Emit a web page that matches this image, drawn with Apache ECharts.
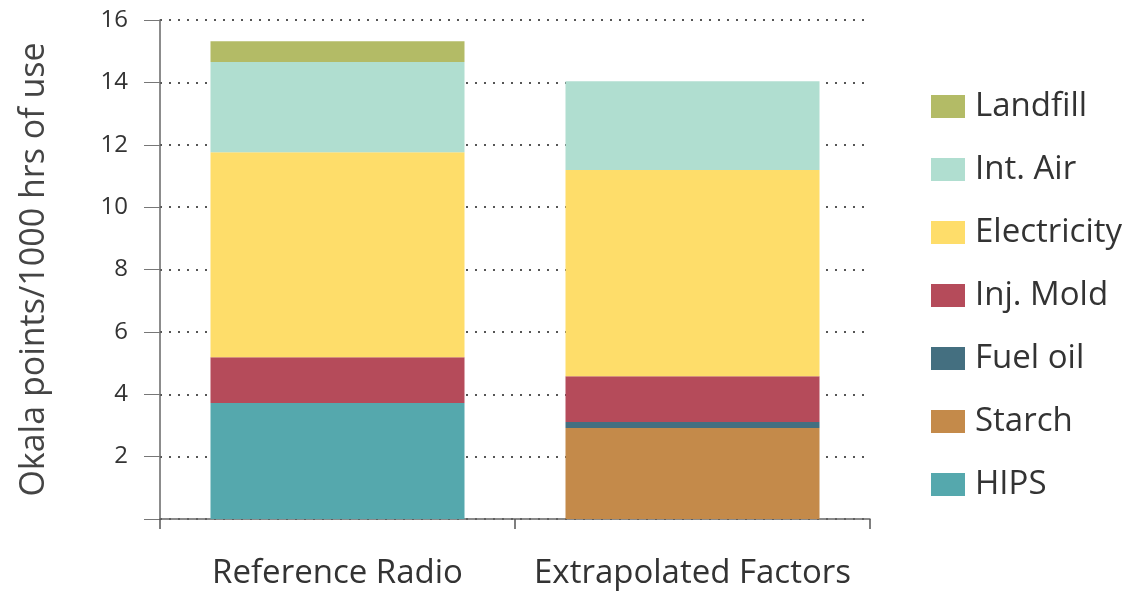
<!DOCTYPE html>
<html>
<head>
<meta charset="utf-8">
<script src="https://cdn.jsdelivr.net/npm/echarts@6/dist/echarts.min.js"></script>
<style>
  html, body { margin: 0; padding: 0; background: #fff; }
  #chart { width: 1146px; height: 593px; }
</style>
</head>
<body>
<div id="chart"></div>
<script>
const categories = ['Reference Radio', 'Extrapolated Factors']
// stacked from the bottom up
const hips = [3.72, 0]
const starch = [0, 2.92]
const fuelOil = [0, 0.19]
const injMold = [1.47, 1.47]
const electricity = [6.57, 6.61]
const intAir = [2.89, 2.85]
const landfill = [0.67, 0]
const legendOrder = ['Landfill', 'Int. Air', 'Electricity', 'Inj. Mold', 'Fuel oil', 'Starch', 'HIPS']
const yTicks = [0, 2, 4, 6, 8, 10, 12, 14, 16]

const font = '"Open Sans", Lato, sans-serif'

function bar(name, data, color) {
  return {
    name: name,
    type: 'bar',
    stack: 'total',
    barWidth: 254,
    data: data,
    itemStyle: { color: color },
    z: 3
  }
}

const myChart = echarts.init(document.getElementById('chart'))
myChart.setOption({
  animation: false,
  textStyle: { fontFamily: font },
  grid: { left: 160, right: 276, top: 20, bottom: 74 },
  legend: {
    data: legendOrder,
    orient: 'vertical',
    left: 926,
    top: 85,
    itemWidth: 34,
    itemHeight: 23,
    itemGap: 30,
    icon: 'rect',
    textStyle: { fontSize: 33, lineHeight: 30, color: '#333', fontFamily: font, padding: [0, 0, 0, 5] }
  },
  xAxis: {
    type: 'category',
    data: categories,
    axisLine: { lineStyle: { color: '#666', width: 1.5 } },
    axisTick: { show: true, length: 10, lineStyle: { color: '#555', width: 1.5 } },
    axisLabel: { interval: 0, hideOverlap: false, fontSize: 33, lineHeight: 34, color: '#333', margin: 38, fontFamily: font }
  },
  yAxis: {
    type: 'value',
    min: yTicks[0],
    max: yTicks[yTicks.length - 1],
    interval: 2,
    name: 'Okala points/1000 hrs of use',
    nameLocation: 'middle',
    nameGap: 108,
    nameTextStyle: { fontSize: 34, lineHeight: 36, color: '#444', fontFamily: font },
    axisLine: { show: true, lineStyle: { color: '#666', width: 1.5 } },
    axisTick: { show: true, inside: false, length: 16, lineStyle: { color: '#777' } },
    axisLabel: {
      fontSize: 24,
      color: '#333',
      margin: 32,
      fontFamily: font,
      formatter: v => (v === 0 ? '' : String(v))
    },
    splitLine: {
      show: true,
      lineStyle: { color: '#555', type: [2, 7], width: 2 }
    }
  },
  series: [
    bar('HIPS', hips, '#55a8ad'),
    bar('Starch', starch, '#c48a4a'),
    bar('Fuel oil', fuelOil, '#446f80'),
    bar('Inj. Mold', injMold, '#b54b5a'),
    bar('Electricity', electricity, '#fedd6a'),
    bar('Int. Air', intAir, '#b0ded0'),
    bar('Landfill', landfill, '#b3bb66')
  ]
})
</script>
</body>
</html>
